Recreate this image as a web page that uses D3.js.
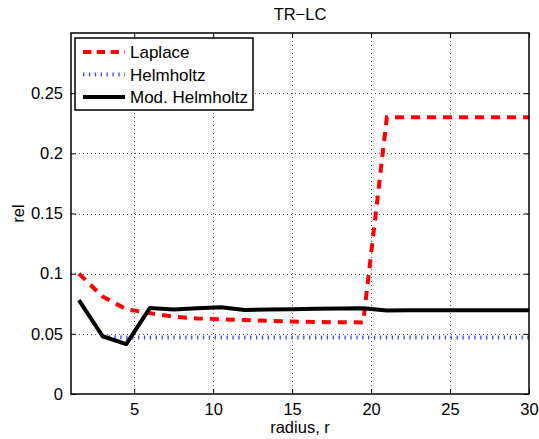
<!DOCTYPE html>
<html>
<head>
<meta charset="utf-8">
<script src="https://cdn.jsdelivr.net/npm/d3@7/dist/d3.min.js"></script>
<style>
body { margin: 0; background: #fff; }
svg text { font-family: "Liberation Sans", Arial, sans-serif; fill: #000; }
</style>
</head>
<body>
<div id="chart"></div>
<script>
var radius = [1.5, 3, 4.5, 6, 7.5, 9, 10.5, 12, 13.5, 15, 16.5, 18, 19.5, 21, 22.5, 24, 25.5, 27, 28.5, 30];
var laplace = [0.100, 0.081, 0.0705, 0.0672, 0.0642, 0.0628, 0.0621, 0.0615, 0.0608, 0.0602, 0.0598, 0.0596, 0.0595, 0.230, 0.230, 0.230, 0.230, 0.230, 0.230, 0.230];
var helmholtz = [null, 0.0475, 0.047, 0.047, 0.047, 0.047, 0.047, 0.047, 0.047, 0.047, 0.047, 0.047, 0.047, 0.047, 0.047, 0.047, 0.047, 0.047, 0.047, 0.047];
var modHelmholtz = [0.078, 0.048, 0.0415, 0.0715, 0.0702, 0.0712, 0.072, 0.0698, 0.0702, 0.0705, 0.0708, 0.071, 0.0712, 0.0694, 0.0695, 0.0696, 0.0696, 0.0697, 0.0697, 0.0697];
var xTicks = [5, 10, 15, 20, 25, 30];
var yTicks = [0, 0.05, 0.1, 0.15, 0.2, 0.25];
var seriesNames = ["Laplace", "Helmholtz", "Mod. Helmholtz"];

var width = 539, height = 439;
var margin = {left: 71, right: 10, top: 33, bottom: 45};
var fontSize = "16.5px";

var svg = d3.select("#chart").append("svg")
    .attr("width", width).attr("height", height);

var x = d3.scaleLinear().domain([1, 30]).range([margin.left, width - margin.right]);
var y = d3.scaleLinear().domain([0, 0.3]).range([height - margin.bottom, margin.top]);

var x0 = x.range()[0], x1 = x.range()[1], y0 = y.range()[0], y1 = y.range()[1];

// grid
var grid = svg.append("g").attr("stroke", "#555").attr("stroke-width", 1)
    .attr("stroke-dasharray", "1,3");
grid.selectAll("line.gx").data(xTicks.filter(function(d){ return d < 30; }))
    .enter().append("line")
    .attr("x1", function(d){ return Math.round(x(d)) + 0.5; })
    .attr("x2", function(d){ return Math.round(x(d)) + 0.5; })
    .attr("y1", y0).attr("y2", y1);
grid.selectAll("line.gy").data(yTicks.filter(function(d){ return d > 0; }))
    .enter().append("line")
    .attr("y1", function(d){ return Math.round(y(d)) + 0.5; })
    .attr("y2", function(d){ return Math.round(y(d)) + 0.5; })
    .attr("x1", x0).attr("x2", x1);

// axes with inner ticks on all sides
var tickLen = 5;
svg.append("g").attr("transform", "translate(0," + y0 + ")")
    .call(d3.axisBottom(x).tickValues(xTicks).tickSize(-tickLen).tickPadding(9))
    .call(function(g){ g.select(".domain").remove(); });
svg.append("g").attr("transform", "translate(0," + y1 + ")")
    .call(d3.axisTop(x).tickValues(xTicks).tickSize(-tickLen).tickFormat(""))
    .call(function(g){ g.select(".domain").remove(); });
svg.append("g").attr("transform", "translate(" + x0 + ",0)")
    .call(d3.axisLeft(y).tickValues(yTicks).tickSize(-tickLen).tickPadding(8).tickFormat(function(d){ return d === 0 ? "0" : d3.format("")(+d.toFixed(2)); }))
    .call(function(g){ g.select(".domain").remove(); });
svg.append("g").attr("transform", "translate(" + x1 + ",0)")
    .call(d3.axisRight(y).tickValues(yTicks).tickSize(-tickLen).tickFormat(""))
    .call(function(g){ g.select(".domain").remove(); });
svg.selectAll(".tick text").style("font-size", fontSize).style("font-family", "'Liberation Sans', Arial, sans-serif");
svg.selectAll(".tick line").attr("stroke", "#000");

// series
var line = d3.line()
    .defined(function(d){ return d[1] !== null; })
    .x(function(d){ return x(d[0]); })
    .y(function(d){ return y(d[1]); });
function pairs(vals) { return radius.map(function(r, i){ return [r, vals[i]]; }); }

var styles = [
    {color: "#ff0000", width: 4, dash: "9,7"},
    {color: "#4040ff", width: 4, dash: "1.3,4.6"},
    {color: "#000000", width: 4, dash: null}
];
var plotG = svg.append("g");
plotG.append("path").datum(pairs(helmholtz)).attr("d", line)
    .attr("fill", "none").attr("stroke", styles[1].color).attr("stroke-width", styles[1].width)
    .attr("stroke-dasharray", styles[1].dash);
plotG.append("path").datum(pairs(laplace)).attr("d", line)
    .attr("fill", "none").attr("stroke", styles[0].color).attr("stroke-width", styles[0].width)
    .attr("stroke-dasharray", styles[0].dash);
plotG.append("path").datum(pairs(modHelmholtz)).attr("d", line)
    .attr("fill", "none").attr("stroke", styles[2].color).attr("stroke-width", styles[2].width)
    .attr("stroke-linejoin", "round");

// box
svg.append("rect").attr("x", x0).attr("y", y1).attr("width", x1 - x0).attr("height", y0 - y1)
    .attr("fill", "none").attr("stroke", "#000").attr("stroke-width", 1.5);

// legend
var lg = svg.append("g").attr("transform", "translate(75,38)");
lg.append("rect").attr("width", 178).attr("height", 72)
    .attr("fill", "#fff").attr("stroke", "#000").attr("stroke-width", 1.5);
var items = lg.selectAll("g.item").data(seriesNames).enter().append("g")
    .attr("transform", function(d, i){ return "translate(0," + (14 + i * 22.5) + ")"; });
items.append("line").attr("x1", 8).attr("x2", 50).attr("y1", 0).attr("y2", 0)
    .attr("stroke", function(d, i){ return styles[i].color; })
    .attr("stroke-width", function(d, i){ return styles[i].width; })
    .attr("stroke-dasharray", function(d, i){ return i === 0 ? "8.3,5.5" : styles[i].dash; });
items.append("text").attr("x", 55).attr("y", 0).attr("dy", "0.36em")
    .style("font-size", "17px").text(function(d){ return d; });

// labels
svg.append("text").attr("x", (x0 + x1) / 2).attr("y", 20).attr("text-anchor", "middle")
    .style("font-size", fontSize).text("TR\u2212LC");
svg.append("text").attr("x", (x0 + x1) / 2).attr("y", 433).attr("text-anchor", "middle")
    .style("font-size", fontSize).text("radius, r");
svg.append("text").attr("transform", "translate(24," + ((y0 + y1) / 2) + ") rotate(-90)")
    .attr("text-anchor", "middle").style("font-size", fontSize).text("rel");
</script>
</body>
</html>
